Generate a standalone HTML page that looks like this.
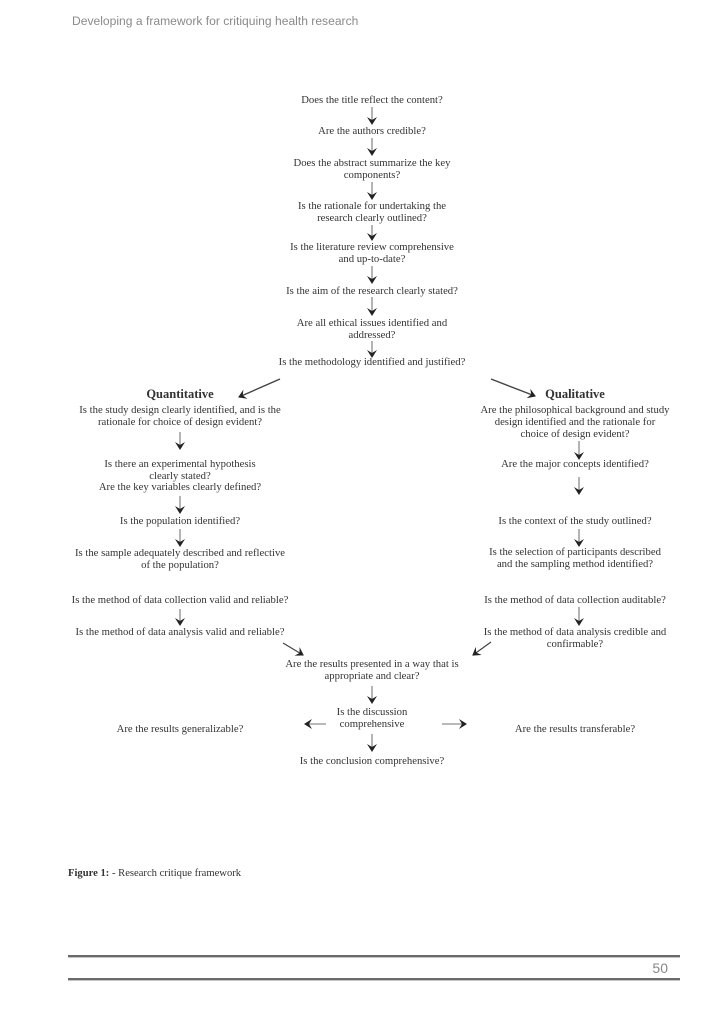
<!DOCTYPE html>
<html><head><meta charset="utf-8"><style>
html,body{margin:0;padding:0;background:#fff;}
svg{display:block;}
.t{font-family:"Liberation Serif",serif;font-size:10.7px;fill:#333;text-anchor:middle;}
</style></head><body>
<svg width="724" height="1024" viewBox="0 0 724 1024" xmlns="http://www.w3.org/2000/svg">
<defs>
<marker id="a" markerWidth="8" markerHeight="10" refX="7" refY="5" orient="auto" markerUnits="userSpaceOnUse">
<path d="M0,0 L8,5 L0,10 L3,5 Z" fill="#222"/>
</marker>
</defs>
<text x="72" y="25" font-family="Liberation Sans,sans-serif" font-size="12.1" fill="#8a8a8a">Developing a framework for critiquing health research</text>

<g class="t">
<text x="372" y="103">Does the title reflect the content?</text>
<text x="372" y="134">Are the authors credible?</text>
<text x="372" y="166">Does the abstract summarize the key</text>
<text x="372" y="178">components?</text>
<text x="372" y="209">Is the rationale for undertaking the</text>
<text x="372" y="221">research clearly outlined?</text>
<text x="372" y="250">Is the literature review comprehensive</text>
<text x="372" y="262">and up-to-date?</text>
<text x="372" y="294">Is the aim of the research clearly stated?</text>
<text x="372" y="326">Are all ethical issues identified and</text>
<text x="372" y="338">addressed?</text>
<text x="372" y="365">Is the methodology identified and justified?</text>

<text x="180" y="398" font-weight="bold" font-size="12.5">Quantitative</text>
<text x="180" y="413">Is the study design clearly identified, and is the</text>
<text x="180" y="425">rationale for choice of design evident?</text>
<text x="180" y="467">Is there an experimental hypothesis</text>
<text x="180" y="479">clearly stated?</text>
<text x="180" y="490">Are the key variables clearly defined?</text>
<text x="180" y="524">Is the population identified?</text>
<text x="180" y="556">Is the sample adequately described and reflective</text>
<text x="180" y="568">of the population?</text>
<text x="180" y="603">Is the method of data collection valid and reliable?</text>
<text x="180" y="635">Is the method of data analysis valid and reliable?</text>

<text x="575" y="398" font-weight="bold" font-size="12.5">Qualitative</text>
<text x="575" y="413">Are the philosophical background and study</text>
<text x="575" y="425">design identified and the rationale for</text>
<text x="575" y="437">choice of design evident?</text>
<text x="575" y="467">Are the major concepts identified?</text>
<text x="575" y="524">Is the context of the study outlined?</text>
<text x="575" y="555">Is the selection of participants described</text>
<text x="575" y="567">and the sampling method identified?</text>
<text x="575" y="603">Is the method of data collection auditable?</text>
<text x="575" y="635">Is the method of data analysis credible and</text>
<text x="575" y="647">confirmable?</text>

<text x="372" y="667">Are the results presented in a way that is</text>
<text x="372" y="679">appropriate and clear?</text>
<text x="372" y="715">Is the discussion</text>
<text x="372" y="727">comprehensive</text>
<text x="180" y="732">Are the results generalizable?</text>
<text x="575" y="732">Are the results transferable?</text>
<text x="372" y="764">Is the conclusion comprehensive?</text>
</g>

<g stroke="#444" stroke-width="0.8" marker-end="url(#a)">
<line x1="372" y1="107" x2="372" y2="124"/>
<line x1="372" y1="138" x2="372" y2="155"/>
<line x1="372" y1="182" x2="372" y2="199"/>
<line x1="372" y1="225" x2="372" y2="240"/>
<line x1="372" y1="266" x2="372" y2="283"/>
<line x1="372" y1="297" x2="372" y2="315"/>
<line x1="372" y1="341" x2="372" y2="357"/>
<line x1="280" y1="379" x2="239" y2="397" stroke-width="1.4"/>
<line x1="491" y1="379" x2="535" y2="396" stroke-width="1.4"/>
<line x1="180" y1="432" x2="180" y2="449"/>
<line x1="180" y1="496" x2="180" y2="513"/>
<line x1="180" y1="529" x2="180" y2="546"/>
<line x1="180" y1="609" x2="180" y2="625"/>
<line x1="283" y1="643" x2="303" y2="655" stroke-width="1.2"/>
<line x1="579" y1="441" x2="579" y2="459"/>
<line x1="579" y1="477" x2="579" y2="494"/>
<line x1="579" y1="529" x2="579" y2="546"/>
<line x1="579" y1="607" x2="579" y2="625"/>
<line x1="491" y1="642" x2="473" y2="655" stroke-width="1.2"/>
<line x1="372" y1="686" x2="372" y2="703"/>
<line x1="326" y1="724" x2="305" y2="724"/>
<line x1="442" y1="724" x2="466" y2="724"/>
<line x1="372" y1="734" x2="372" y2="751"/>
</g>

<text x="68" y="876" font-family="Liberation Serif,serif" font-size="10.6" fill="#333"><tspan font-weight="bold">Figure 1:</tspan> - Research critique framework</text>

<rect x="68" y="955" width="612" height="2.4" fill="#6a6a6a"/>
<text x="668" y="973" font-family="Liberation Sans,sans-serif" font-size="14" fill="#888" text-anchor="end">50</text>
<rect x="68" y="978" width="612" height="2.4" fill="#6a6a6a"/>
</svg>
</body></html>
